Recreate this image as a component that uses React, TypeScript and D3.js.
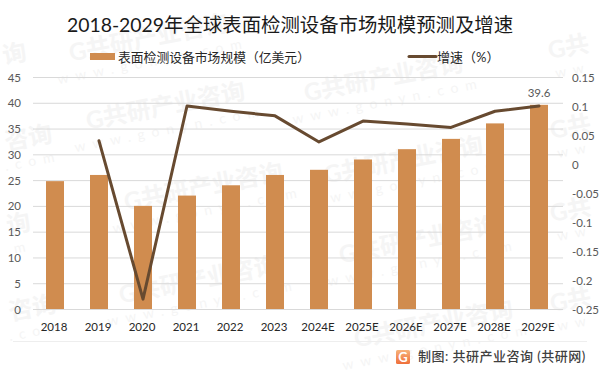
import React, { useEffect, useRef } from "react";
import * as d3 from "d3";

const categories = ["2018","2019","2020","2021","2022","2023","2024E","2025E","2026E","2027E","2028E","2029E"];
const marketSize = [24.8,26,20,22,24,26,27,29,31,33,36,39.6];
const growth: (number|null)[] = [null,0.04,-0.233,0.1,0.091,0.083,0.038,0.074,0.069,0.063,0.091,0.1];
const leftTicks = [0,5,10,15,20,25,30,35,40,45];
const rightTicks = [-0.25,-0.2,-0.15,-0.1,-0.05,0,0.05,0.1,0.15];
const title = "2018-2029年全球表面检测设备市场规模预测及增速";
const barLegend = "表面检测设备市场规模（亿美元）";
const lineLegend = "增速（%）";
const source = "制图: 共研产业咨询 (共研网)";
const wmFull = "G共研产业咨询";
const wmUrl = "www.gonyn.com";
const watermarks: [number,number,string,string][] = [
  [150,46,wmFull,wmUrl],[167,114,wmFull,wmUrl],[205,195,wmFull,wmUrl],[200,288,wmFull,wmUrl],
  [385,86,wmFull,wmUrl],[405,168,wmFull,wmUrl],[420,248,wmFull,wmUrl],[435,332,wmFull,wmUrl],
  [16,62,"询","m"],[30,146,"咨询",".com"],[20,232,"询","m"],[34,316,"咨询",".com"],
  [570,55,"G共","ww"],[572,135,"G共","ww"],[572,218,"G共","ww"],[572,308,"G共","ww"],
];

const FONT = "Lato, 'Noto Sans CJK SC', sans-serif";
const W = 600, H = 372;
const left = 33, right = 561, top = 77, bottom = 309;

export default function App() {
  const ref = useRef<SVGSVGElement>(null);
  useEffect(() => {
    const svg = d3.select(ref.current!);
    svg.selectAll("*").remove();
    svg.attr("font-family", FONT);
    const x = d3.scaleBand<string>().domain(categories).range([left, right]);
    const yL = d3.scaleLinear().domain([0,45]).range([bottom, top]);
    const yR = d3.scaleLinear().domain([-0.25,0.15]).range([bottom, top]);

    const wm = svg.append("g").attr("fill", "#f5f5f5");
    watermarks.forEach(([wx,wy,a,b]) => {
      const g = wm.append("g").attr("transform", `translate(${wx},${wy}) rotate(-11)`);
      g.append("text").attr("font-size", 24).attr("font-weight", 700).attr("text-anchor","middle").text(a);
      g.append("text").attr("y", 20).attr("font-size", 14).attr("letter-spacing", 7).attr("text-anchor","middle").text(b);
    });

    svg.append("text").attr("x", 290).attr("y", 32).attr("text-anchor","middle")
      .attr("font-size", 19.4).attr("fill","#1a1a1a").text(title);

    svg.append("g").selectAll("line").data(leftTicks).join("line")
      .attr("x1", left).attr("x2", right+2)
      .attr("y1", d => yL(d)+0.5).attr("y2", d => yL(d)+0.5)
      .attr("stroke", "#d9d9d9").attr("stroke-width", 1);
    svg.append("line").attr("x1",13).attr("x2",587).attr("y1",341.5).attr("y2",341.5).attr("stroke","#eeeeee");

    svg.append("g").selectAll("rect").data(categories).join("rect")
      .attr("x", d => x(d)! + x.bandwidth()/2 - 9)
      .attr("width", 18)
      .attr("y", (_,i) => yL(marketSize[i]))
      .attr("height", (_,i) => bottom - yL(marketSize[i]))
      .attr("fill", "#d08c4f");

    const line = d3.line<number|null>()
      .defined(d => d !== null)
      .x((_,i) => x(categories[i])! + x.bandwidth()/2)
      .y(d => yR(d as number));
    svg.append("path").attr("d", line(growth)!).attr("fill","none")
      .attr("stroke","#674a30").attr("stroke-width",3).attr("stroke-linejoin","round").attr("stroke-linecap","round");

    const tickFill = "#595959";
    svg.append("g").selectAll("text").data(leftTicks).join("text")
      .attr("x", 21).attr("y", d => yL(d)+4.5).attr("text-anchor","end")
      .attr("font-size", 11.5).attr("fill", tickFill).text(d => d);
    svg.append("g").selectAll("text").data(rightTicks).join("text")
      .attr("x", 572).attr("y", d => yR(d)+4.5)
      .attr("font-size", 11.5).attr("fill", tickFill).text(d => String(d));
    svg.append("g").selectAll("text").data(categories).join("text")
      .attr("x", d => x(d)! + x.bandwidth()/2 - 1).attr("y", 331).attr("text-anchor","middle")
      .attr("font-size", 11.5).attr("fill", "#262626").text(d => d);

    const last = categories.length-1;
    svg.append("text").attr("x", x(categories[last])! + x.bandwidth()/2).attr("y", 97).attr("text-anchor","middle")
      .attr("font-size", 11.5).attr("fill", tickFill).text(marketSize[last]);

    svg.append("rect").attr("x",90).attr("y",53).attr("width",25).attr("height",7).attr("fill","#d08c4f");
    svg.append("text").attr("x",118).attr("y",62).attr("font-size",12.8).attr("fill","#262626").text(barLegend);
    svg.append("line").attr("x1",409).attr("x2",436).attr("y1",56.5).attr("y2",56.5)
      .attr("stroke","#674a30").attr("stroke-width",3).attr("stroke-linecap","round");
    svg.append("text").attr("x",437).attr("y",62).attr("font-size",13).attr("fill","#262626").text(lineLegend);

    const defs = svg.append("defs");
    const grad = defs.append("linearGradient").attr("id","logoGrad").attr("x1",0).attr("x2",0).attr("y1",0).attr("y2",1);
    grad.append("stop").attr("offset",0).attr("stop-color","#f7b27a");
    grad.append("stop").attr("offset",1).attr("stop-color","#ef6f3a");
    const logo = svg.append("g").attr("transform","translate(396,350)");
    logo.append("rect").attr("width",14).attr("height",14).attr("rx",1.5).attr("fill","url(#logoGrad)");
    logo.append("text").attr("x",7).attr("y",12).attr("text-anchor","middle").attr("font-size",13).attr("font-weight",700).attr("fill","#ffffff").text("G");
    svg.append("text").attr("x",418).attr("y",361).attr("font-size",13).attr("letter-spacing",0.5).attr("font-weight",500).attr("fill","#404040").text(source);
  }, []);
  return <svg ref={ref} width={W} height={H} style={{position:"fixed",left:0,top:0,background:"#fff"}} />;
}
